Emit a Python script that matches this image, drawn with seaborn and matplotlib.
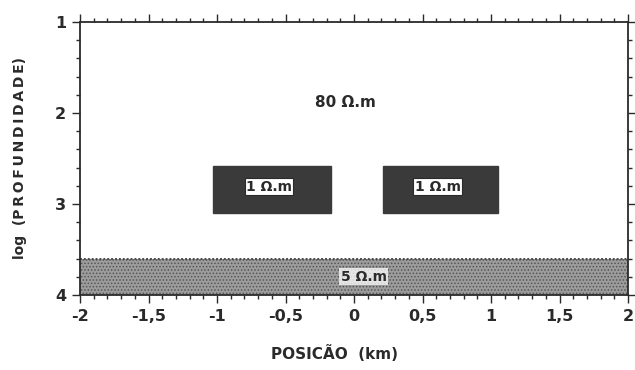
import matplotlib
matplotlib.use("Agg")
import matplotlib.pyplot as plt
import seaborn as sns
import numpy as np
from matplotlib.ticker import MultipleLocator, FuncFormatter

# ---- data ----
block_x0 = [-1.03, 0.21]
block_x1 = [-0.17, 1.05]
block_top = [2.58, 2.58]
block_bottom = [3.10, 3.10]
block_labels = ["1 Ω.m", "1 Ω.m"]

layer_x = [-2.0, 2.0]
layer_top = [3.6, 3.6]
layer_bottom = [4.0, 4.0]
layer_label = "5 Ω.m"

host_label = "80 Ω.m"

x_ticks = [-2, -1.5, -1, -0.5, 0, 0.5, 1, 1.5, 2]
y_ticks = [1, 2, 3, 4]

sns.set_style("ticks")
plt.rcParams['font.family'] = ['DejaVu Sans']
plt.rcParams['font.weight'] = 'bold'
plt.rcParams['axes.labelweight'] = 'bold'

INK = '#2a2a2a'
TS = '\u2009'

fig = plt.figure(figsize=(6.35, 3.70), dpi=100)
ax = fig.add_axes([0.126, 0.203, 0.863, 0.7375])

# deep layer (stippled)
plt.rcParams['hatch.linewidth'] = 0.7
plt.rcParams['hatch.color'] = '#5e5e5e'
ax.fill_between(layer_x, layer_top, layer_bottom, facecolor='#9c9c9c',
                edgecolor='#555555', hatch='.....', linewidth=0.0, zorder=1)
ax.plot(layer_x, layer_top, color='#4a4a4a', lw=1.4, ls=(0, (1, 1)), zorder=2)

# conductive blocks
for x0, x1, t, b, lab in zip(block_x0, block_x1, block_top, block_bottom, block_labels):
    ax.bar((x0 + x1) / 2, b - t, width=x1 - x0, bottom=t, color='#3a3a3a',
           edgecolor='#3a3a3a', zorder=3)
    ax.text((x0 + x1) / 2 - 0.02, (t + b) / 2 - 0.03, lab, ha='center', va='center',
            fontsize=10, color=INK, zorder=4,
            bbox=dict(boxstyle='square,pad=0.1', fc='white', ec=INK, lw=0.8))

ax.text(-0.06, 1.88, host_label, ha='center', va='center', fontsize=11, color=INK)
ax.text(0.07, 3.8, layer_label, ha='center', va='center', fontsize=10, color=INK,
        zorder=4, bbox=dict(boxstyle='square,pad=0.1', fc='white', ec='none', alpha=0.75))

ax.set_xlim(-2, 2)
ax.set_ylim(4, 1)
ax.set_xticks(x_ticks)
ax.set_yticks(y_ticks)
ax.xaxis.set_major_formatter(FuncFormatter(lambda v, p: ('%g' % v).replace('.', ',')))
ax.yaxis.set_major_formatter(FuncFormatter(lambda v, p: '%d' % v))
ax.xaxis.set_minor_locator(MultipleLocator(0.1))
ax.yaxis.set_minor_locator(MultipleLocator(0.2))
ax.tick_params(which='both', direction='out', top=True, right=True,
               color=INK, width=1.0)
ax.tick_params(which='major', length=6, labelsize=11.5, labelcolor=INK, pad=4)
ax.tick_params(which='minor', length=3)
ax.tick_params(axis='x', which='both', labeltop=False)
ax.tick_params(axis='y', which='both', labelright=False)
for s in ax.spines.values():
    s.set_color(INK)
    s.set_linewidth(1.3)

ax.set_xlabel("POSICÃO  (km)", fontsize=11, color=INK)
ax.xaxis.set_label_coords(0.465, -0.185)
ax.set_ylabel("log  (" + TS.join("PROFUNDIDADE") + ")", fontsize=10, color=INK, labelpad=20)

fig.savefig("out.png", dpi=100, facecolor='white')
